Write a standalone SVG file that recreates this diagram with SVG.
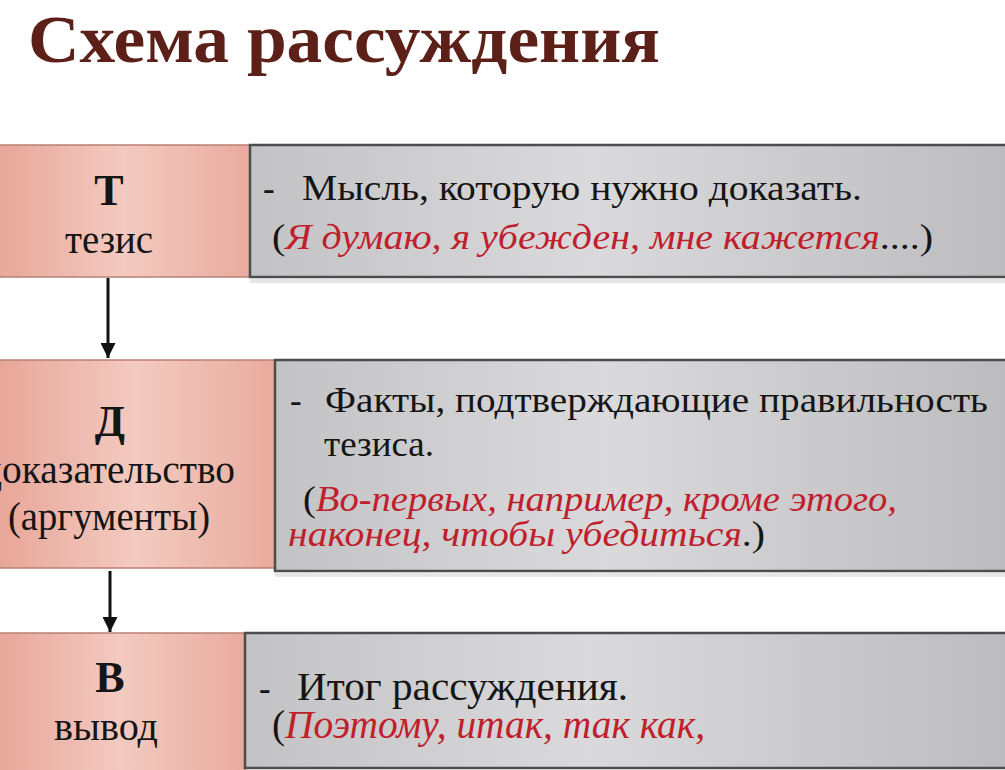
<svg xmlns="http://www.w3.org/2000/svg" width="1005" height="770" viewBox="0 0 1005 770">
<defs>
<linearGradient id="pink" x1="0" y1="0" x2="1" y2="0">
<stop offset="0" stop-color="#e8a699"/>
<stop offset="0.5" stop-color="#f3cac0"/>
<stop offset="1" stop-color="#e9ab9e"/>
</linearGradient>
<linearGradient id="grey" x1="0" y1="0" x2="1" y2="0">
<stop offset="0" stop-color="#c3c3c5"/>
<stop offset="0.45" stop-color="#dadadc"/>
<stop offset="1" stop-color="#bcbcbe"/>
</linearGradient>
<marker id="arr" viewBox="0 0 10 10" refX="10" refY="5" markerWidth="6" markerHeight="5" markerUnits="strokeWidth" orient="auto">
<path d="M0,0 L10,5 L0,10 z" fill="#111"/>
</marker>
</defs>
<style>
.pink{fill:url(#pink);stroke:#b98075;stroke-width:1.5}
.grey{fill:url(#grey);stroke:#4d4d4d;stroke-width:2.5}
.shadow{fill:none;stroke:#e6e6e6;stroke-width:4}
text{font-family:"Liberation Serif","Times New Roman",serif}
.t{fill:#151515}
.big{font-size:44px;font-weight:bold;text-anchor:middle}
.lab{font-size:40px}
.txt{font-size:35px}
.red{fill:#c0202c;font-style:italic}
.title{font-size:68px;font-weight:bold;fill:#5c2018}
.conn{stroke:#111;stroke-width:3;fill:none}
</style>
<rect width="1005" height="770" fill="#ffffff"/>
<text class="title" x="28" y="62" textLength="632" lengthAdjust="spacingAndGlyphs">Схема рассуждения</text>

<g id="thesis">
<rect class="pink" x="-2" y="145" width="252" height="132"/>
<line class="shadow" x1="250" y1="281" x2="1005" y2="281"/>
<rect class="grey" x="250" y="145" width="760" height="132"/>
<text class="t big" x="109" y="205">Т</text>
<text class="t lab" x="65" y="253" textLength="88" lengthAdjust="spacingAndGlyphs">тезис</text>
<text class="t txt" x="263" y="200">-</text>
<text class="t txt" x="302" y="200" textLength="560" lengthAdjust="spacingAndGlyphs">Мысль, которую нужно доказать.</text>
<text class="t txt" x="272" y="249" textLength="661" lengthAdjust="spacingAndGlyphs">(<tspan class="red">Я думаю, я убежден, мне кажется</tspan>....)</text>
</g>

<g id="proof">
<rect class="pink" x="-2" y="360" width="277" height="208"/>
<line class="shadow" x1="275" y1="575" x2="1005" y2="575"/>
<rect class="grey" x="275" y="360" width="735" height="211"/>
<text class="t big" x="110" y="436">Д</text>
<text class="t lab" x="-18" y="483" textLength="253" lengthAdjust="spacingAndGlyphs">доказательство</text>
<text class="t lab" x="8" y="530" textLength="202" lengthAdjust="spacingAndGlyphs">(аргументы)</text>
<text class="t txt" x="290" y="412">-</text>
<text class="t txt" x="325" y="412" textLength="663" lengthAdjust="spacingAndGlyphs">Факты, подтверждающие правильность</text>
<text class="t txt" x="324" y="456" textLength="110" lengthAdjust="spacingAndGlyphs">тезиса.</text>
<text class="t txt" x="303" y="511" textLength="594" lengthAdjust="spacingAndGlyphs">(<tspan class="red">Во-первых, например, кроме этого,</tspan></text>
<text class="t txt" x="288" y="546" textLength="477" lengthAdjust="spacingAndGlyphs"><tspan class="red">наконец, чтобы убедиться</tspan>.)</text>
</g>

<g id="conclusion">
<rect class="pink" x="-2" y="633" width="247" height="140"/>
<rect class="grey" x="245" y="633" width="765" height="135"/>
<text class="t big" x="110" y="692">В</text>
<text class="t lab" x="54" y="740" textLength="104" lengthAdjust="spacingAndGlyphs">вывод</text>
<text class="t txt" x="259" y="700">-</text>
<text class="t lab" x="297" y="700" textLength="331" lengthAdjust="spacingAndGlyphs">Итог рассуждения.</text>
<text class="t lab" x="272" y="738" textLength="433" lengthAdjust="spacingAndGlyphs">(<tspan class="red">Поэтому, итак, так как,</tspan></text>
</g>

<g id="connectors">
<line class="conn" x1="108" y1="278" x2="108" y2="358" marker-end="url(#arr)"/>
<line class="conn" x1="110" y1="571" x2="110" y2="632" marker-end="url(#arr)"/>
</g>
</svg>
